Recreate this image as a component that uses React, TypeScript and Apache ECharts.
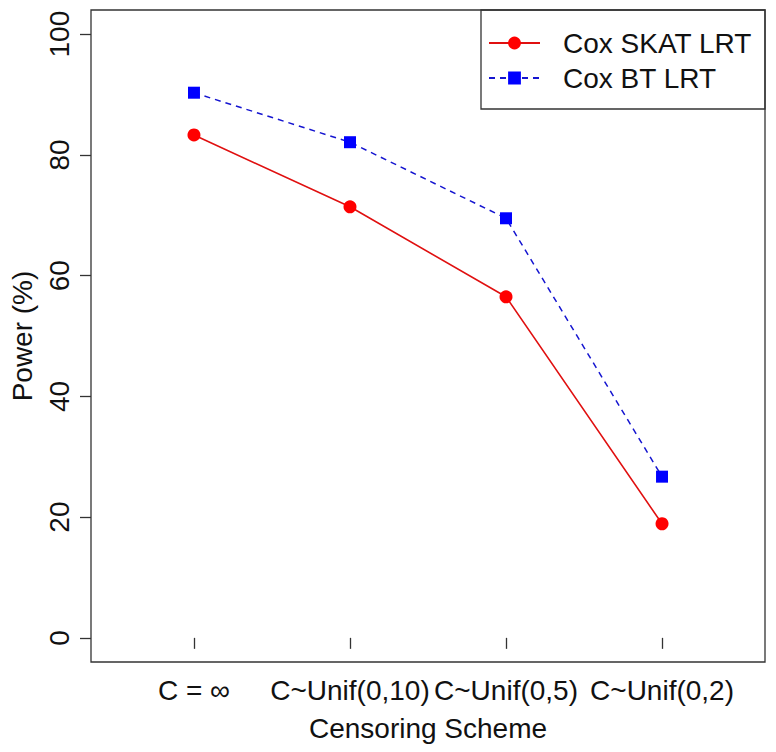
import React, { useEffect, useRef } from "react";
import * as echarts from "echarts";

const categories = ["C = ∞", "C~Unif(0,10)", "C~Unif(0,5)", "C~Unif(0,2)"];
const positions = [1, 2, 3, 4];
const skat = [83.3, 71.4, 56.5, 18.9];
const bt = [90.3, 82.1, 69.5, 26.7];
const yTicks = [0, 20, 40, 60, 80, 100];

export default function App() {
  const ref = useRef<HTMLDivElement>(null);
  useEffect(() => {
    const chart = echarts.init(ref.current!, null, { renderer: "svg" });
    const font = "Liberation Sans, Arial, Helvetica, sans-serif";
    chart.setOption({
      animation: false,
      grid: {
        left: 87.5,
        top: 10,
        right: 11,
        bottom: 90,
        show: true,
        borderColor: "#333",
        borderWidth: 1.3,
        backgroundColor: "transparent",
      },
      xAxis: {
        type: "value",
        min: 0.34,
        max: 4.66,
        splitLine: { show: false },
        axisLine: { show: false },
        axisTick: { show: true, length: 11, customValues: positions, lineStyle: { color: "#333", width: 1.3 } },
        axisLabel: {
          customValues: positions,
          formatter: (v: number) => categories[Math.round(v) - 1] ?? "",
          fontFamily: font,
          fontSize: 28,
          color: "#111",
          margin: 14,
        },
        name: "Censoring Scheme",
        nameLocation: "middle",
        nameGap: 52,
        nameTextStyle: { fontFamily: font, fontSize: 28, color: "#111" },
      },
      yAxis: {
        type: "value",
        min: -4,
        max: 104,
        splitLine: { show: false },
        axisLine: { show: false },
        axisTick: { show: true, length: 11, customValues: yTicks, lineStyle: { color: "#333", width: 1.3 } },
        axisLabel: {
          customValues: yTicks,
          rotate: 90,
          fontFamily: font,
          fontSize: 28,
          color: "#111",
          margin: 18,
        },
        name: "Power (%)",
        nameLocation: "middle",
        nameGap: 55,
        nameRotate: 90,
        nameTextStyle: { fontFamily: font, fontSize: 28, color: "#111" },
      },
      legend: {
        orient: "vertical",
        left: 488,
        top: 25.5,
        padding: 0,
        itemGap: 0,
        itemWidth: 51,
        itemHeight: 16,
        textStyle: { fontFamily: font, fontSize: 28, color: "#111", lineHeight: 35, padding: [0, 0, 0, 18] },
        data: ["Cox SKAT LRT", "Cox BT LRT"],
      },
      graphic: [
        {
          type: "rect",
          shape: { x: 481, y: 10, width: 284, height: 99 },
          style: { fill: "none", stroke: "#333", lineWidth: 1.3 },
          z: 10,
        },
      ],
      series: [
        {
          name: "Cox SKAT LRT",
          type: "line",
          data: positions.map((p, i) => [p, skat[i]]),
          symbol: "circle",
          symbolSize: 13,
          itemStyle: { color: "#ff0000" },
          lineStyle: { color: "#e01010", width: 1.6 },
        },
        {
          name: "Cox BT LRT",
          type: "line",
          data: positions.map((p, i) => [p, bt[i]]),
          symbol: "rect",
          symbolSize: 12,
          itemStyle: { color: "#0000ff" },
          lineStyle: { color: "#1515d0", width: 1.5, type: [6, 5] },
        },
      ],
    });
    return () => chart.dispose();
  }, []);
  return (
    <div
      ref={ref}
      style={{ position: "fixed", left: 0, top: 0, width: 776, height: 752, background: "#fff" }}
    />
  );
}
